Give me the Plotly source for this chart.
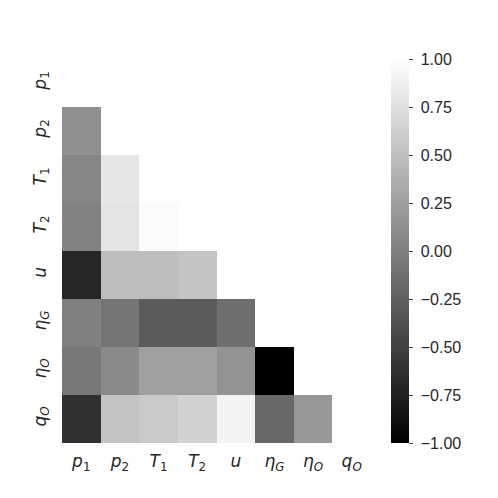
import plotly.graph_objects as go

labels = ["<i>p</i><sub>1</sub>", "<i>p</i><sub>2</sub>", "<i>T</i><sub>1</sub>", "<i>T</i><sub>2</sub>",
          "<i>u</i>", "<i>η</i><sub><i>G</i></sub>", "<i>η</i><sub><i>O</i></sub>", "<i>q</i><sub><i>O</i></sub>"]

# lower-triangle correlations (row i, columns 0..i-1)
row_p2 = [0.12]
row_T1 = [0.05, 0.80]
row_T2 = [0.02, 0.79, 0.97]
row_u = [-0.70, 0.48, 0.48, 0.54]
row_etaG = [0.00, -0.09, -0.29, -0.29, -0.14]
row_etaO = [-0.06, 0.08, 0.25, 0.25, 0.15, -1.00]
row_qO = [-0.62, 0.54, 0.58, 0.65, 0.91, -0.18, 0.19]

rows = [[], row_p2, row_T1, row_T2, row_u, row_etaG, row_etaO, row_qO]
n = len(labels)
z = [r + [None] * (n - len(r)) for r in rows]

cbar_ticks = [-1, -0.75, -0.5, -0.25, 0, 0.25, 0.5, 0.75, 1]
gray = [[0, "black"], [1, "white"]]

fig = go.Figure(go.Heatmap(
    z=z, x=labels, y=labels,
    zmin=-1, zmax=1,
    colorscale=gray,
    hoverongaps=False,
    colorbar=dict(
        x=1.065, xanchor="left", y=0.5, yanchor="middle",
        len=1.0, thickness=18, outlinewidth=0, xpad=0, ypad=0,
        tickvals=cbar_ticks, tickformat=".2f",
        ticks="outside", ticklen=9, tickcolor="rgba(0,0,0,0)",
        tickfont=dict(family="Liberation Sans, Arial", size=16, color="#262626"),
    ),
))

# short visible tick marks on the colorbar come from an invisible helper trace
fig.add_trace(go.Heatmap(
    z=[[0]], x=[labels[0]], y=[labels[0]], zmin=-1, zmax=1, opacity=0,
    colorscale=gray, hoverinfo="skip",
    colorbar=dict(
        x=1.065, xanchor="left", y=0.5, yanchor="middle",
        len=1.0, thickness=18, outlinewidth=0, xpad=0, ypad=0,
        tickvals=cbar_ticks, showticklabels=False,
        ticks="outside", ticklen=4, tickcolor="#444",
    ),
))

# page body adds an 8px margin, so the figure is 490 wide and shifted
fig.update_layout(
    width=490, height=490,
    margin=dict(l=54, r=127, t=51, b=55, autoexpand=False),
    paper_bgcolor="white", plot_bgcolor="white",
    font=dict(family="DejaVu Sans", size=17, color="#262626"),
)
fig.update_xaxes(showgrid=False, zeroline=False, showline=False, ticks="", tickangle=0,
                 automargin=False, ticklabelstandoff=6)
fig.update_yaxes(showgrid=False, zeroline=False, showline=False, ticks="", tickangle=-90,
                 autorange="reversed", automargin=False, ticklabelstandoff=12)

fig.write_html("out.html")
